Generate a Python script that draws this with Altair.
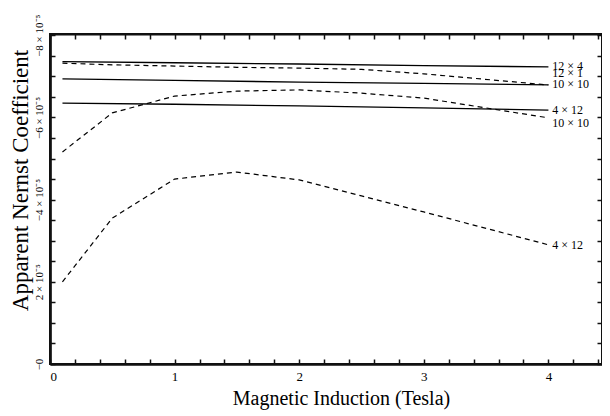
import altair as alt
import pandas as pd

# ---------------- data ----------------
B_SOLID = [0.1, 1.0, 2.0, 3.0, 4.0]
SOLID_12x4 = [7.36, 7.33, 7.30, 7.26, 7.23]
SOLID_10x10 = [6.94, 6.90, 6.86, 6.83, 6.79]
SOLID_4x12 = [6.35, 6.32, 6.28, 6.23, 6.18]

B_DASH = [0.1, 0.5, 1.0, 1.5, 2.0, 2.5, 3.0, 4.0]
DASH_12x1 = [7.32, 7.28, 7.25, 7.22, 7.20, 7.17, 7.06, 6.79]
DASH_10x10 = [5.16, 6.11, 6.52, 6.64, 6.67, 6.59, 6.47, 5.99]
DASH_4x12 = [2.00, 3.55, 4.50, 4.67, 4.48, 4.09, 3.70, 2.90]

LABEL_TEXT = ["12 × 4", "12 × 1", "10 × 10", "4 × 12", "10 × 10", "4 × 12"]
LABEL_B = [4.03, 4.03, 4.03, 4.03, 4.03, 4.03]
LABEL_V = [7.25, 7.08, 6.81, 6.18, 5.86, 2.90]

X_LABEL_VALUES = [0, 1, 2, 3, 4]
Y_LABEL_VALUES = [0, 2, 4, 6, 8]
Y_LABEL_TEXT = ["−0", "2 × 10⁻⁵", "−4 × 10⁻⁵", "−6 × 10⁻⁵", "−8 × 10⁻⁵"]
X_MINOR = [round(0.2 * i, 1) for i in range(23)]
Y_MINOR = [0.5 * i for i in range(17)]

# ---------------- tables ----------------
solid_rows = []
for name, vals in [("12x4", SOLID_12x4), ("10x10", SOLID_10x10), ("4x12", SOLID_4x12)]:
    for b, v in zip(B_SOLID, vals):
        solid_rows.append({"B": b, "V": v, "series": name})
dash_rows = []
for name, vals in [("12x1", DASH_12x1), ("10x10d", DASH_10x10), ("4x12d", DASH_4x12)]:
    for b, v in zip(B_DASH, vals):
        dash_rows.append({"B": b, "V": v, "series": name})
df_solid = pd.DataFrame(solid_rows)
df_dash = pd.DataFrame(dash_rows)
df_lab = pd.DataFrame({"B": LABEL_B, "V": LABEL_V, "text": LABEL_TEXT})

W, H = 552, 330
FONT = "Liberation Serif"
INK = "#111111"

xscale = alt.Scale(domain=[0, 4.43], nice=False, zero=False)
yscale = alt.Scale(domain=[0, 8.03], nice=False, zero=False)

ylabel_expr = " : ".join(
    f"datum.value == {v} ? '{t}'" for v, t in zip(Y_LABEL_VALUES, Y_LABEL_TEXT)
) + " : ''"

DOM = dict(domain=True, domainColor=INK, domainWidth=2.2,
           tickColor=INK, tickWidth=1.5)

axis_x_main = alt.Axis(
    values=X_LABEL_VALUES, ticks=False, grid=False, **DOM,
    labelFont=FONT, labelFontSize=13, labelColor="black", labelPadding=6,
    title="Magnetic Induction (Tesla)", titleFont=FONT, titleFontSize=20,
    titleFontWeight="normal", titleColor="black", titleX=291, titlePadding=5,
)
axis_y_main = alt.Axis(
    values=Y_LABEL_VALUES, ticks=False, grid=False, **DOM,
    labelExpr=ylabel_expr, labelAngle=270, labelAlign="center", labelBaseline="bottom",
    labelFlush=True, labelFont=FONT, labelFontSize=11, labelColor="black", labelPadding=6,
    title="Apparent Nernst Coefficient", titleFont=FONT, titleFontSize=23,
    titleFontWeight="normal", titleColor="black", titleY=146, titlePadding=1,
)
# inward ticks along the bottom and left edges
axis_x_in_bottom = alt.Axis(orient="top", offset=-H, values=X_MINOR, labels=False,
                            grid=False, tickSize=5, title=None, **DOM)
axis_y_in_left = alt.Axis(orient="right", offset=-W, values=Y_MINOR, labels=False,
                          grid=False, tickSize=5, title=None, **DOM)
# inward ticks along the top and right edges
axis_x_in_top = alt.Axis(orient="bottom", offset=-H, values=X_MINOR, labels=False,
                         grid=False, tickSize=5, title=None, **DOM)
axis_y_in_right = alt.Axis(orient="left", offset=-W, values=Y_MINOR, labels=False,
                           grid=False, tickSize=5, title=None, **DOM)

solid = alt.Chart(df_solid).mark_line(color="black", strokeWidth=1.3).encode(
    x=alt.X("B:Q", scale=xscale, axis=axis_x_main),
    y=alt.Y("V:Q", scale=yscale, axis=axis_y_main),
    detail="series:N",
)
dashed = alt.Chart(df_dash).mark_line(color="black", strokeWidth=1.2, strokeDash=[5, 4]).encode(
    x=alt.X("B:Q", scale=xscale, axis=axis_x_in_bottom),
    y=alt.Y("V:Q", scale=yscale, axis=axis_y_in_left),
    detail="series:N",
)
labels = alt.Chart(df_lab).mark_text(
    align="left", baseline="middle", font=FONT, fontSize=12, color="black"
).encode(
    x=alt.X("B:Q", scale=xscale, axis=axis_x_in_top),
    y=alt.Y("V:Q", scale=yscale, axis=axis_y_in_right),
    text="text:N",
)

chart = (
    alt.layer(solid, dashed, labels)
    .resolve_axis(x="independent", y="independent")
    .properties(
        width=W, height=H,
        autosize=alt.AutoSizeParams(type="none"),
        padding={"left": 42, "top": 26, "right": 0, "bottom": 52},
        background="white",
    )
    .configure_view(stroke=INK, strokeWidth=2)
)

chart.save("out.html", embed_options={"renderer": "svg", "actions": False})
